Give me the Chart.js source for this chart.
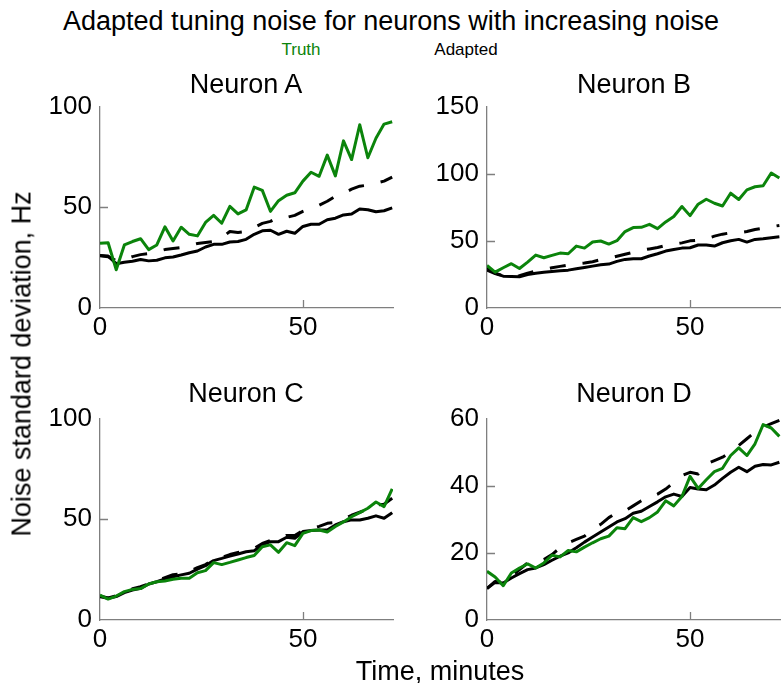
<!DOCTYPE html>
<html>
<head>
<meta charset="utf-8">
<script src="https://cdn.jsdelivr.net/npm/chart.js@4.4.1/dist/chart.umd.min.js"></script>
<style>
  body { margin: 0; background: #fff; }
  #fig { position: relative; width: 781px; height: 683px; overflow: hidden; font-family: "Liberation Sans", Arial, sans-serif; color: #000; }
  .txt { position: absolute; white-space: nowrap; line-height: 1; transform: translate(-50%, -50%); }
  .panel { position: absolute; }
</style>
</head>
<body>
<div id="fig">
  <div class="panel" style="left:30px; top:83px;"><canvas id="chart-a" width="370" height="267"></canvas></div>
  <div class="panel" style="left:417px; top:83px;"><canvas id="chart-b" width="364" height="267"></canvas></div>
  <div class="panel" style="left:30px; top:395px;"><canvas id="chart-c" width="370" height="267"></canvas></div>
  <div class="panel" style="left:417px; top:395px;"><canvas id="chart-d" width="364" height="267"></canvas></div>

  <div class="txt" style="left:391px; top:21px; font-size:27px;">Adapted tuning noise for neurons with increasing noise</div>
  <div class="txt" style="left:301px; top:49px; font-size:17px; color:#0b840b;">Truth</div>
  <div class="txt" style="left:466px; top:49px; font-size:17px;">Adapted</div>
  <div class="txt" style="left:246px; top:84px; font-size:27px;">Neuron A</div>
  <div class="txt" style="left:634px; top:84px; font-size:27px;">Neuron B</div>
  <div class="txt" style="left:246px; top:393px; font-size:27px;">Neuron C</div>
  <div class="txt" style="left:634px; top:393px; font-size:27px;">Neuron D</div>
  <div class="txt" style="left:22px; top:364px; font-size:27px; transform: translate(-50%, -50%) rotate(-90deg);">Noise standard deviation, Hz</div>
  <div class="txt" style="left:440px; top:671px; font-size:27px;">Time, minutes</div>
</div>

<script>
// ────── DATA ──────
const minutes = [0, 2, 4, 6, 8, 10, 12, 14, 16, 18, 20, 22, 24, 26, 28, 30, 32, 34, 36,
  38, 40, 42, 44, 46, 48, 50, 52, 54, 56, 58, 60, 62, 64, 66, 68, 70, 72];

const truthA = [32.1, 32.4, 19, 31.3, 33, 34.4, 29, 31.3, 40.3, 33.3, 40.1, 36.6, 35.8, 42.5, 46,
  42.1, 50.5, 46.7, 48.7, 60, 58.4, 48, 53.3, 56, 57.2, 63, 67.4, 65.4, 75.9, 65.6, 83, 73.7, 91,
  74.6, 84.3, 91.3, 92.5];
const adaptedA = [26.1, 25.8, 22, 22.7, 23.2, 24.1, 23.4, 23.7, 24.9, 25.3, 26.3, 27.4, 28.3, 30.3,
  31.6, 31.6, 32.8, 33, 34.1, 36.6, 38.3, 38.6, 36.6, 38.1, 37.1, 40.5, 41.6, 41.6, 43.8, 44.6,
  46.2, 46.7, 49.2, 48.8, 47.8, 48.3, 49.7];
const adaptedDashA = [26, 25.5, 23.5, 24, 25.5, 26.5, 27, 28, 29, 29.5, 30, 31, 32, 32.5, 33, 35,
  38, 37.5, 38, 40, 42, 43, 45, 45, 46, 48, 49.5, 51, 53, 55.5, 57, 59, 60.5, 61, 62, 63, 65];

const truthB = [31.7, 26.7, 30, 33, 29.4, 34.2, 39.4, 37.4, 39.2, 40.9, 40.4, 46.1, 44.6, 49.1,
  49.9, 47.6, 50.1, 56.9, 59.9, 60.1, 62.3, 59.1, 64.1, 68.1, 75.6, 68.8, 77.3, 81, 78, 76, 85.5,
  80.8, 88, 90.3, 91, 100.5, 96.8];
const adaptedB = [28.2, 25.7, 23.7, 23.4, 23.2, 24.9, 25.9, 26.7, 27.2, 27.7, 28.2, 29.2, 30.2,
  31.2, 32.2, 32.7, 34.7, 36.2, 36.7, 36.7, 38.7, 40.4, 42.4, 43.6, 44.6, 44.9, 46.9, 46.9, 46.1,
  48.6, 50.1, 51.1, 49.1, 51.1, 51.6, 52.4, 53.1];
const adaptedDashB = [30, 26, 24, 23.5, 24, 26, 27.5, 28.5, 30, 31, 32, 33, 33.5, 34.5, 36, 37,
  38.5, 40, 41.5, 43, 44, 45, 46.5, 47.5, 48.5, 50, 50.5, 51.5, 53.5, 55, 56, 56, 57, 58.5, 59.5,
  60.5, 61.5];

const truthC = [12.4, 10.4, 11.9, 14.1, 15.2, 15.6, 17.9, 19, 19.4, 20.2, 20.7, 20.7, 23.5, 24.5,
  28.5, 27.5, 28.6, 29.8, 31, 32, 36.4, 37.3, 33.6, 38.4, 36.9, 43, 44.4, 44.7, 43.7, 46.4, 48.7,
  51.3, 53.3, 55.5, 58.6, 56.3, 65.1];
const adaptedC = [11.6, 10.8, 11.6, 13.6, 14.9, 15.7, 17.9, 19, 20.4, 21.5, 22.4, 23.2, 25.3, 27,
  29.5, 30.6, 31.8, 32.8, 33.9, 34.4, 37.3, 38.9, 38.9, 41.1, 40.6, 43.9, 44.4, 44.7, 44.7, 47.2,
  48.8, 49.7, 49.7, 50.5, 51.7, 50.5, 53.3];
const adaptedDashC = [12, 11, 12, 14, 15.5, 16.5, 18, 19.5, 21, 22.5, 23, 24, 26, 27.5, 30, 31,
  32.5, 33.5, 34.5, 35.5, 38, 39.5, 40, 42, 42, 44.5, 45.5, 46.5, 48, 48.5, 50, 52, 53.5, 55, 57,
  57.5, 60.5];

const truthD = [14.5, 12.8, 10.2, 14, 15.5, 16.7, 15.5, 17, 19.3, 18.8, 20.7, 20.3, 21.7, 23, 24.2,
  25, 27.5, 27.2, 30.5, 29.3, 30.5, 32.2, 35.5, 34, 36.8, 42.8, 39.2, 41.8, 44.2, 45.2, 49, 51.3,
  49, 52.5, 58.2, 57.2, 54.7];
const adaptedD = [9.4, 11.2, 11, 12.5, 13.8, 15, 15.5, 16.5, 17.8, 19, 20, 21.5, 23.2, 24.7, 26.2,
  27.7, 29.2, 30.2, 31.8, 32.4, 33.8, 35.2, 36.7, 37.5, 36.8, 39.5, 39, 38.8, 40.2, 42.2, 44, 45.5,
  44.2, 45.8, 46.3, 46.2, 47];
const adaptedDashD = [9.4, 11.5, 11.5, 13, 15, 17, 17.3, 18, 19.5, 21.5, 23, 24, 25, 27, 28.5,
  30.5, 32, 32.5, 34, 35.5, 36.5, 37.5, 39, 41, 43, 44, 43.5, 46.5, 47.5, 48.5, 50, 52, 54, 56,
  57.5, 58.5, 59.5];

const xTicks = [0, 50];
const yTicksA = [0, 50, 100];
const yTicksB = [0, 50, 100, 150];
const yTicksC = [0, 50, 100];
const yTicksD = [0, 20, 40, 60];

// ────── STYLE ──────
const GREEN = "#0b840b";
const AXIS_GRAY = "#7f7f7f";
const FONT = { family: "'Liberation Sans', Arial, sans-serif", size: 26 };

// ticks drawn inward from the axis line, like the original figure
const innerTicks = {
  id: "innerTicks",
  afterDraw(chart) {
    const { ctx, chartArea } = chart;
    const x = chart.scales.x;
    const y = chart.scales.y;
    ctx.save();
    ctx.strokeStyle = AXIS_GRAY;
    ctx.lineWidth = 1.3;
    ctx.beginPath();
    x.ticks.forEach((t) => {
      if (t.value <= x.min || t.value >= x.max) return;
      const px = Math.round(x.getPixelForValue(t.value)) + 0.5;
      ctx.moveTo(px, chartArea.bottom);
      ctx.lineTo(px, chartArea.bottom - 8);
    });
    y.ticks.forEach((t) => {
      if (t.value <= y.min || t.value >= y.max) return;
      const py = Math.round(y.getPixelForValue(t.value)) + 0.5;
      ctx.moveTo(chartArea.left, py);
      ctx.lineTo(chartArea.left + 8, py);
    });
    ctx.stroke();
    ctx.restore();
  },
};

function toPoints(values) {
  return values.map((v, i) => ({ x: minutes[i], y: v }));
}

function makePanel(id, truth, adapted, adaptedDash, yMax, yTicks, xMax, rightPad) {
  const ctx = document.getElementById(id).getContext("2d");
  return new Chart(ctx, {
    type: "line",
    data: {
      datasets: [
        { label: "Truth", data: toPoints(truth), borderColor: GREEN, borderWidth: 3 },
        { label: "Adapted", data: toPoints(adapted), borderColor: "#000", borderWidth: 3 },
        { label: "Adapted (dashed)", data: toPoints(adaptedDash), borderColor: "#000", borderWidth: 3, borderDash: [16, 17] },
      ],
    },
    options: {
      responsive: false,
      animation: false,
      devicePixelRatio: 1,
      layout: { padding: { top: 0, right: rightPad, left: 0, bottom: 0 } },
      elements: {
        point: { radius: 0 },
        line: { tension: 0, borderJoinStyle: "round", borderCapStyle: "butt" },
      },
      plugins: { legend: { display: false }, tooltip: { enabled: false } },
      scales: {
        x: {
          type: "linear",
          min: 0,
          max: xMax,
          grid: { display: false, drawTicks: false },
          border: { display: true, color: AXIS_GRAY, width: 1.3 },
          afterBuildTicks: (s) => { s.ticks = xTicks.map((v) => ({ value: v })); },
          afterFit: (s) => { s.height = 42; },
          ticks: { color: "#000", font: FONT, padding: 4, maxRotation: 0 },
        },
        y: {
          min: 0,
          max: yMax,
          grid: { display: false, drawTicks: false },
          border: { display: true, color: AXIS_GRAY, width: 1.3 },
          afterBuildTicks: (s) => { s.ticks = yTicks.map((v) => ({ value: v })); },
          afterFit: (s) => { s.width = 70; },
          ticks: { color: "#000", font: FONT, padding: 8 },
        },
      },
    },
    plugins: [innerTicks],
  });
}

/** ────── BOOTSTRAP ────── */
makePanel("chart-a", truthA, adaptedA, adaptedDashA, 100, yTicksA, 72.2, 7);
makePanel("chart-b", truthB, adaptedB, adaptedDashB, 150, yTicksB, 72.4, 0);
makePanel("chart-c", truthC, adaptedC, adaptedDashC, 100, yTicksC, 72.2, 7);
makePanel("chart-d", truthD, adaptedD, adaptedDashD, 60, yTicksD, 72.4, 0);
</script>
</body>
</html>
